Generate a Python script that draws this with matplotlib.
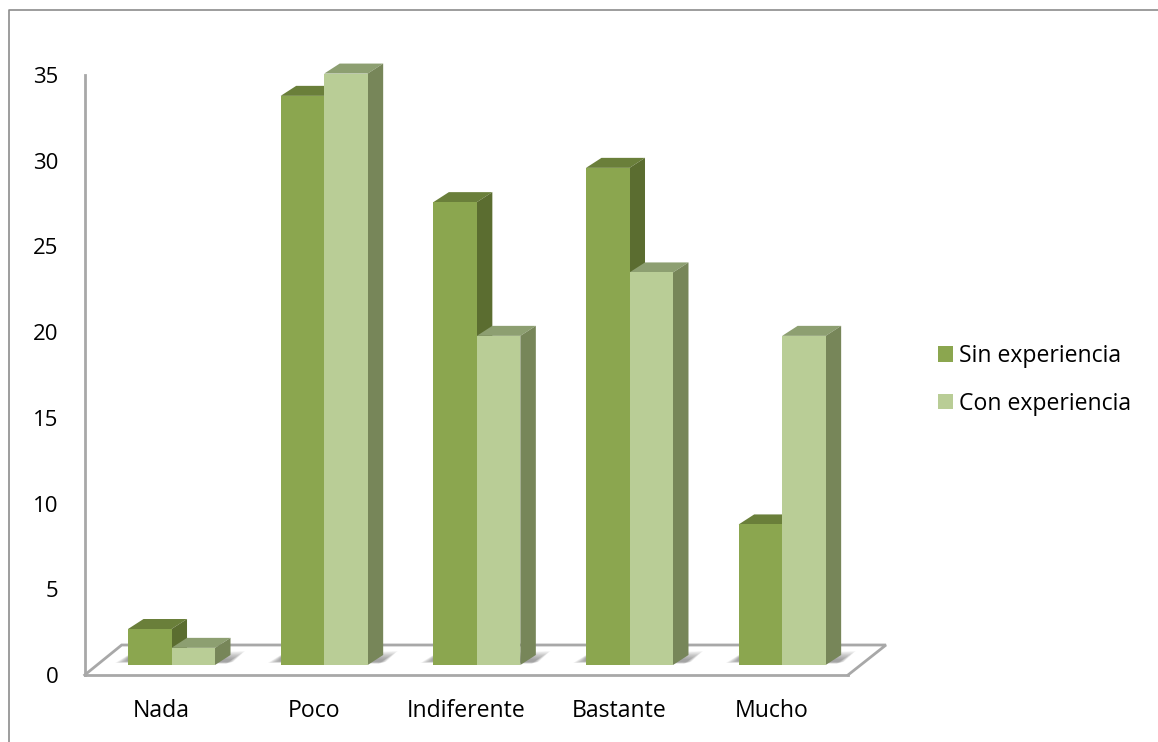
import matplotlib
matplotlib.use("Agg")
import matplotlib.pyplot as plt
from matplotlib.lines import Line2D

plt.rcParams['font.family'] = ['Open Sans', 'DejaVu Sans']

categorias = ['Nada', 'Poco', 'Indiferente', 'Bastante', 'Mucho']
sin_experiencia = [2.1, 33.2, 27.0, 29.0, 8.2]
con_experiencia = [1.0, 34.5, 19.2, 22.9, 19.2]
yticks = [0, 5, 10, 15, 20, 25, 30, 35]

W, H = 1158, 742
UX = 152.7    # px per category
UY = 600 / 35    # px per value unit

# bars stand further back on the floor than the front axis line
SHIFT_X = 10.5 / UX
FLOOR = 10 / UY
# depth of the extruded side and top faces
DEPTH_X = 15.5 / UX
DEPTH_Y = 10 / UY
BAR_W = 43.5 / UX

fig = plt.figure(figsize=(W / 100, H / 100), dpi=100)
ax = fig.add_axes([84.7 / W, (H - 675) / H, (848 - 84.7) / W, 600 / H])
ax.set_xlim(-0.5, 4.5)
ax.set_ylim(0, 35)

GRIS = '#a8a8a8'

# floor
back_y = 30 / UY
ax.plot([-0.5, -0.5 + 37 / UX, 4.5 + 38 / UX, 4.5],
        [0, back_y, back_y, 0], color=GRIS, lw=2, clip_on=False, zorder=1,
        solid_joinstyle='miter')


def sombra(x0, x1):
    # soft shadow on the floor around a group of bars, stacked faint layers
    for k in range(12):
        s = 1 - k / 12
        xs = [x0 - 13 * s / UX, x1 + (10 + 8 * s) / UX, x1 + (16 + 14 * s) / UX, x0]
        ys = [FLOOR + (4 - 2 * s) / UY, FLOOR + (1 + 2 * s) / UY,
              FLOOR + (5 + 9 * s) / UY, FLOOR + (7 + 3 * s) / UY]
        ax.fill(xs, ys, color='#505050', alpha=0.055, lw=0, clip_on=False, zorder=1.5)


def caras(x0, v, c_top, c_side, z):
    # top and side faces of one bar
    x1 = x0 + BAR_W
    y1 = FLOOR + v
    ax.fill([x0, x0 + DEPTH_X, x1 + DEPTH_X, x1], [y1, y1 + DEPTH_Y, y1 + DEPTH_Y, y1],
            color=c_top, lw=0, clip_on=False, zorder=z)
    ax.fill([x1, x1 + DEPTH_X, x1 + DEPTH_X, x1], [FLOOR, FLOOR + DEPTH_Y, y1 + DEPTH_Y, y1],
            color=c_side, lw=0, clip_on=False, zorder=z)


for i in range(len(categorias)):
    left = i + SHIFT_X - BAR_W
    right = i + SHIFT_X + BAR_W
    sombra(left, right)
    caras(left, sin_experiencia[i], '#6a7f3a', '#5b6d30', 2)
    caras(i + SHIFT_X, con_experiencia[i], '#8d9f71', '#778659', 3)

b1 = ax.bar([i + SHIFT_X - BAR_W / 2 for i in range(5)], sin_experiencia, BAR_W, bottom=FLOOR,
            color='#8ba64f', clip_on=False, zorder=2.5, label='Sin experiencia')
b2 = ax.bar([i + SHIFT_X + BAR_W / 2 for i in range(5)], con_experiencia, BAR_W, bottom=FLOOR,
            color='#b9cd96', clip_on=False, zorder=3.5, label='Con experiencia')

for s in ['top', 'right']:
    ax.spines[s].set_visible(False)
for s in ['left', 'bottom']:
    ax.spines[s].set_color(GRIS)
    ax.spines[s].set_linewidth(2)
    ax.spines[s].set_zorder(1.2)

ax.set_xticks(range(len(categorias)))
ax.set_xticklabels(categorias)
ax.set_yticks(yticks)
ax.tick_params(axis='x', length=0, pad=17.5, labelsize=16.6, labelcolor='black')
ax.tick_params(axis='y', length=0, pad=19, labelsize=16, labelcolor='black')

fig.legend(handles=[b1, b2], loc='center left', bbox_to_anchor=(938 / W, 1 - 380 / H),
           frameon=False, fontsize=16.6, handlelength=0.65, handleheight=0.65,
           handletextpad=0.25, labelspacing=1.02, borderpad=0, borderaxespad=0)

# chart area outline, only the left and top edges show
fig.add_artist(Line2D([9 / W, 9 / W, 1], [0, 1 - 10 / H, 1 - 10 / H], color='#8c8c8c', lw=1.2))

fig.savefig('out.png', dpi=100)
